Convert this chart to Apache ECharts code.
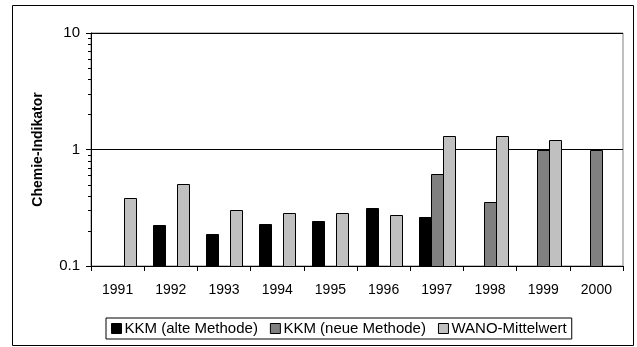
<!DOCTYPE html>
<html>
<head>
<meta charset="utf-8">
<script src="https://cdn.jsdelivr.net/npm/echarts@6/dist/echarts.min.js"></script>
<style>html,body{margin:0;padding:0;background:#fff}#c{width:637px;height:347px}</style>
</head>
<body>
<div id="c"></div>
<script>
const years = ['1991','1992','1993','1994','1995','1996','1997','1998','1999','2000'];
const kkmAlt = [null, 0.225, 0.19, 0.228, 0.245, 0.315, 0.263, null, null, null];
const kkmNeu = [null, null, null, null, null, null, 0.62, 0.355, 1.0, 1.0];
const wano = [0.385, 0.505, 0.302, 0.283, 0.283, 0.272, 1.31, 1.31, 1.21, null];
const minorTickValues = [0.2,0.3,0.4,0.5,0.6,0.7,0.8,0.9,2,3,4,5,6,7,8,9];
const yMin = 0.1, yMax = 10;

const FONT = '"Liberation Sans", Arial, sans-serif';
const chart = echarts.init(document.getElementById('c'), null, {renderer: 'canvas'});

const BAR_W = 12;
function barSeries(name, values, color, slot) {
  return {
    type: 'custom', name: name, animation: false,
    itemStyle: {color: color, borderColor: '#000', borderWidth: 1},
    data: values.map((v, i) => [i, v]).filter(d => d[1] != null),
    encode: {x: 0, y: 1},
    renderItem: function (params, api) {
      const idx = api.value(0), v = api.value(1);
      const top = api.coord([idx, v]);
      const base = api.coord([idx, yMin]);
      const cx = top[0] + (slot - 1) * BAR_W;
      const x = Math.round(cx - BAR_W / 2) + 0.5;
      const y = Math.round(top[1]) + 0.5;
      const yb = Math.round(base[1]) + 0.5;
      return {type: 'rect', shape: {x: x, y: y, width: BAR_W, height: yb - y},
        style: {fill: color, stroke: '#000', lineWidth: 1}};
    }
  };
}

chart.setOption({
  animation: false,
  textStyle: {fontFamily: FONT, color: '#000'},
  grid: {left: 91, top: 33, right: 14, bottom: 81, show: true, borderColor: '#808080', borderWidth: 1, backgroundColor: 'transparent'},
  graphic: [{type: 'rect', shape: {x: 12.5, y: 5.5, width: 621, height: 340}, style: {fill: null, stroke: '#000', lineWidth: 1}, silent: true}],
  legend: {
    left: 106, top: 318, orient: 'horizontal',
    data: ['KKM (alte Methode)', 'KKM (neue Methode)', 'WANO-Mittelwert'],
    icon: 'rect', itemWidth: 10, itemHeight: 10, itemGap: 12,
    borderColor: '#000', borderWidth: 1, padding: [3, 5, 3, 5],
    itemStyle: {borderColor: '#000', borderWidth: 1},
    textStyle: {fontFamily: FONT, fontSize: 15, color: '#000', padding: [0, 0, 0, -2]}
  },
  xAxis: {
    type: 'category', data: years, boundaryGap: true,
    axisLine: {lineStyle: {color: '#000', width: 1}},
    axisTick: {show: true, length: 5, lineStyle: {color: '#000'}},
    axisLabel: {fontFamily: FONT, fontSize: 14, color: '#000', margin: 17}
  },
  yAxis: {
    type: 'log', logBase: 10, min: yMin, max: yMax,
    name: 'Chemie-Indikator', nameLocation: 'middle', nameRotate: 90, nameGap: 46,
    nameTextStyle: {fontFamily: FONT, fontSize: 14, fontWeight: 'bold', color: '#000'},
    axisLine: {show: true, lineStyle: {color: '#000', width: 1}},
    axisTick: {show: true, length: 5, lineStyle: {color: '#000'}},
    axisLabel: {fontFamily: FONT, fontSize: 15, color: '#000', margin: 11,
      formatter: v => (v < 1 ? String(Math.round(v*10)/10) : String(Math.round(v)))},
    splitLine: {show: true, lineStyle: {color: '#000', width: 1}}
  },
  series: [
    barSeries('KKM (alte Methode)', kkmAlt, '#000000', 0),
    barSeries('KKM (neue Methode)', kkmNeu, '#808080', 1),
    barSeries('WANO-Mittelwert', wano, '#C0C0C0', 2),
    {
      type: 'custom', name: 'minorTicks', silent: true, animation: false,
      data: minorTickValues.map(v => [0, v]),
      encode: {x: 0, y: 1},
      renderItem: function (params, api) {
        const y = Math.round(api.coord([0, api.value(1)])[1]) + 0.5;
        const x0 = params.coordSys.x;
        return {type: 'line', shape: {x1: x0 - 3, y1: y, x2: x0, y2: y}, style: {stroke: '#000', lineWidth: 1}};
      }
    }
  ]
});
</script>
</body>
</html>
